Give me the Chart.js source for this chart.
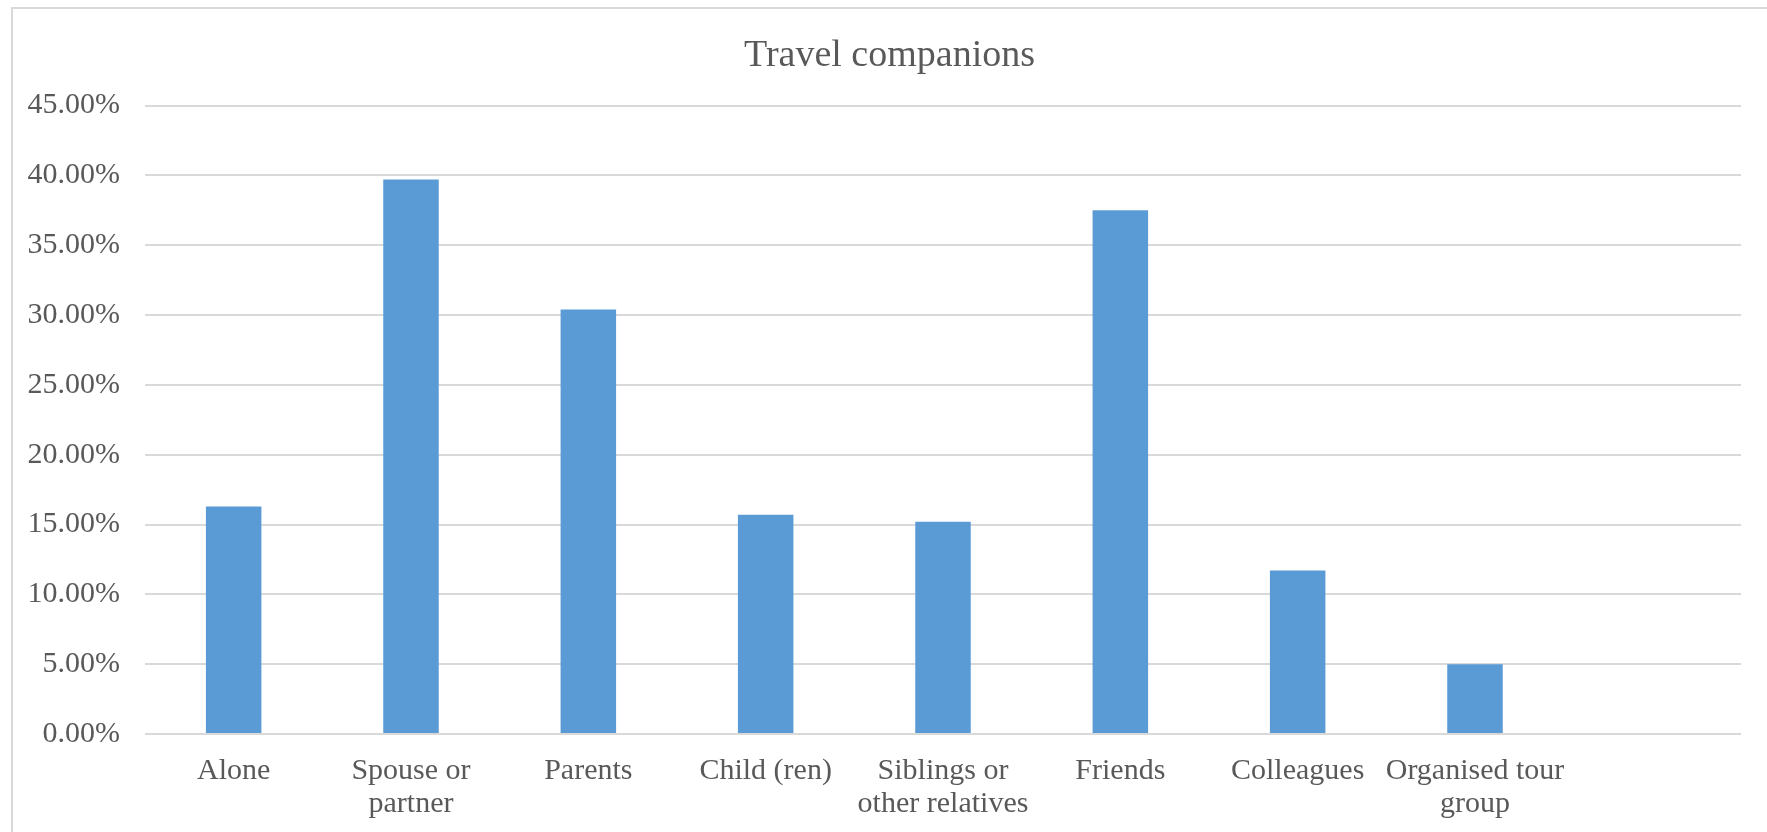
<!DOCTYPE html>
<html>
<head>
<meta charset="utf-8">
<title>Travel companions</title>
<script src="https://cdn.jsdelivr.net/npm/chart.js@4/dist/chart.umd.min.js"></script>
<style>
  html, body { margin: 0; padding: 0; background: #ffffff; }
  #wrap { width: 1767px; height: 832px; position: relative; }
</style>
</head>
<body>
<div id="wrap"><canvas id="chart" width="1767" height="832"></canvas></div>
<script>
// Survey answers: who respondents travel with (share of respondents, %)
const categories = [
  'Alone',
  ['Spouse or', 'partner'],
  'Parents',
  'Child (ren)',
  ['Siblings or', 'other relatives'],
  'Friends',
  'Colleagues',
  ['Organised tour', 'group'],
  ''
];
const shares = [16.3, 39.7, 30.4, 15.7, 15.2, 37.5, 11.7, 5.0, null];
const yTicks = [0, 5, 10, 15, 20, 25, 30, 35, 40, 45];

const TEXT = '#595959';
const GRID = '#D9D9D9';
const SERIF = "'Liberation Serif', 'Times New Roman', serif";
const FRAME_LEFT = 12;
const FRAME_TOP = 8;

// Light frame around the whole chart (top and left edges are visible);
// the title is centred across the framed area rather than the plot.
const framePlugin = {
  id: 'frame',
  afterLayout(chart) {
    const t = chart.titleBlock;
    if (t) { t.left = FRAME_LEFT; t.right = chart.width; }
  },
  beforeDraw(chart) {
    const ctx = chart.ctx;
    ctx.save();
    ctx.fillStyle = '#ffffff';
    ctx.fillRect(0, 0, chart.width, chart.height);
    ctx.strokeStyle = GRID;
    ctx.lineWidth = 2;
    ctx.strokeRect(FRAME_LEFT, FRAME_TOP, chart.width + 20, chart.height + 20);
    ctx.restore();
  }
};

new Chart(document.getElementById('chart'), {
  type: 'bar',
  data: {
    labels: categories,
    datasets: [{
      label: 'Travel companions',
      data: shares,
      backgroundColor: '#5B9BD5',
      borderWidth: 0,
      barPercentage: 0.313,
      categoryPercentage: 1.0
    }]
  },
  options: {
    responsive: false,
    animation: false,
    layout: { padding: { left: 0, right: 26, top: 0, bottom: 0 } },
    plugins: {
      legend: { display: false },
      tooltip: { enabled: false },
      title: {
        display: true,
        text: 'Travel companions',
        color: TEXT,
        font: { family: SERIF, size: 38, weight: 'normal', lineHeight: 1.2 },
        padding: { top: 33, bottom: 27 }
      }
    },
    scales: {
      x: {
        grid: { display: false, drawTicks: false },
        border: { display: false },
        ticks: {
          color: TEXT,
          font: { family: SERIF, size: 30, lineHeight: 1.1 },
          padding: 21,
          maxRotation: 0,
          autoSkip: false
        },
        afterFit(scale) { scale.height = 98; }
      },
      y: {
        min: 0,
        max: 45,
        afterBuildTicks(scale) { scale.ticks = yTicks.map(v => ({ value: v })); },
        grid: { color: GRID, lineWidth: 2, drawTicks: false },
        border: { display: false },
        ticks: {
          color: TEXT,
          font: { family: SERIF, size: 30 },
          padding: 25,
          callback: v => v.toFixed(2) + '%'
        },
        afterFit(scale) { scale.width = 145; }
      }
    }
  },
  plugins: [framePlugin]
});
</script>
</body>
</html>
